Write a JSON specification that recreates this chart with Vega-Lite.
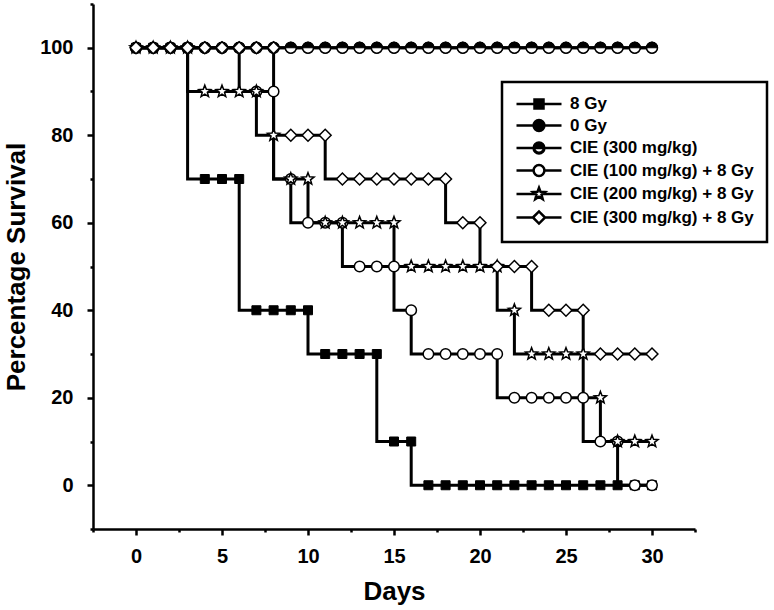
{
  "$schema": "https://vega.github.io/schema/vega-lite/v6.json",
  "width": 602,
  "height": 525,
  "autosize": {"type": "none"},
  "padding": {"left": 93, "top": 4, "right": 79, "bottom": 81},
  "background": "white",
  "config": {"view": {"stroke": null}, "font": "Liberation Sans", "legend": {"strokeWidth": 2.5}},
  "data": {"values": [
    {"group":"8 Gy","day":0,"pct":100},{"group":"8 Gy","day":1,"pct":100},{"group":"8 Gy","day":2,"pct":100},{"group":"8 Gy","day":3,"pct":100},{"group":"8 Gy","day":4,"pct":70},{"group":"8 Gy","day":5,"pct":70},{"group":"8 Gy","day":6,"pct":70},{"group":"8 Gy","day":7,"pct":40},{"group":"8 Gy","day":8,"pct":40},{"group":"8 Gy","day":9,"pct":40},{"group":"8 Gy","day":10,"pct":40},{"group":"8 Gy","day":11,"pct":30},{"group":"8 Gy","day":12,"pct":30},{"group":"8 Gy","day":13,"pct":30},{"group":"8 Gy","day":14,"pct":30},{"group":"8 Gy","day":15,"pct":10},{"group":"8 Gy","day":16,"pct":10},{"group":"8 Gy","day":17,"pct":0},{"group":"8 Gy","day":18,"pct":0},{"group":"8 Gy","day":19,"pct":0},{"group":"8 Gy","day":20,"pct":0},{"group":"8 Gy","day":21,"pct":0},{"group":"8 Gy","day":22,"pct":0},{"group":"8 Gy","day":23,"pct":0},{"group":"8 Gy","day":24,"pct":0},{"group":"8 Gy","day":25,"pct":0},{"group":"8 Gy","day":26,"pct":0},{"group":"8 Gy","day":27,"pct":0},{"group":"8 Gy","day":28,"pct":0},{"group":"8 Gy","day":29,"pct":0},{"group":"8 Gy","day":30,"pct":0},
    {"group":"0 Gy","day":0,"pct":100},{"group":"0 Gy","day":1,"pct":100},{"group":"0 Gy","day":2,"pct":100},{"group":"0 Gy","day":3,"pct":100},{"group":"0 Gy","day":4,"pct":100},{"group":"0 Gy","day":5,"pct":100},{"group":"0 Gy","day":6,"pct":100},{"group":"0 Gy","day":7,"pct":100},{"group":"0 Gy","day":8,"pct":100},{"group":"0 Gy","day":9,"pct":100},{"group":"0 Gy","day":10,"pct":100},{"group":"0 Gy","day":11,"pct":100},{"group":"0 Gy","day":12,"pct":100},{"group":"0 Gy","day":13,"pct":100},{"group":"0 Gy","day":14,"pct":100},{"group":"0 Gy","day":15,"pct":100},{"group":"0 Gy","day":16,"pct":100},{"group":"0 Gy","day":17,"pct":100},{"group":"0 Gy","day":18,"pct":100},{"group":"0 Gy","day":19,"pct":100},{"group":"0 Gy","day":20,"pct":100},{"group":"0 Gy","day":21,"pct":100},{"group":"0 Gy","day":22,"pct":100},{"group":"0 Gy","day":23,"pct":100},{"group":"0 Gy","day":24,"pct":100},{"group":"0 Gy","day":25,"pct":100},{"group":"0 Gy","day":26,"pct":100},{"group":"0 Gy","day":27,"pct":100},{"group":"0 Gy","day":28,"pct":100},{"group":"0 Gy","day":29,"pct":100},{"group":"0 Gy","day":30,"pct":100},
    {"group":"CIE (300 mg/kg)","day":0,"pct":100},{"group":"CIE (300 mg/kg)","day":1,"pct":100},{"group":"CIE (300 mg/kg)","day":2,"pct":100},{"group":"CIE (300 mg/kg)","day":3,"pct":100},{"group":"CIE (300 mg/kg)","day":4,"pct":100},{"group":"CIE (300 mg/kg)","day":5,"pct":100},{"group":"CIE (300 mg/kg)","day":6,"pct":100},{"group":"CIE (300 mg/kg)","day":7,"pct":100},{"group":"CIE (300 mg/kg)","day":8,"pct":100},{"group":"CIE (300 mg/kg)","day":9,"pct":100},{"group":"CIE (300 mg/kg)","day":10,"pct":100},{"group":"CIE (300 mg/kg)","day":11,"pct":100},{"group":"CIE (300 mg/kg)","day":12,"pct":100},{"group":"CIE (300 mg/kg)","day":13,"pct":100},{"group":"CIE (300 mg/kg)","day":14,"pct":100},{"group":"CIE (300 mg/kg)","day":15,"pct":100},{"group":"CIE (300 mg/kg)","day":16,"pct":100},{"group":"CIE (300 mg/kg)","day":17,"pct":100},{"group":"CIE (300 mg/kg)","day":18,"pct":100},{"group":"CIE (300 mg/kg)","day":19,"pct":100},{"group":"CIE (300 mg/kg)","day":20,"pct":100},{"group":"CIE (300 mg/kg)","day":21,"pct":100},{"group":"CIE (300 mg/kg)","day":22,"pct":100},{"group":"CIE (300 mg/kg)","day":23,"pct":100},{"group":"CIE (300 mg/kg)","day":24,"pct":100},{"group":"CIE (300 mg/kg)","day":25,"pct":100},{"group":"CIE (300 mg/kg)","day":26,"pct":100},{"group":"CIE (300 mg/kg)","day":27,"pct":100},{"group":"CIE (300 mg/kg)","day":28,"pct":100},{"group":"CIE (300 mg/kg)","day":29,"pct":100},{"group":"CIE (300 mg/kg)","day":30,"pct":100},
    {"group":"CIE (100 mg/kg) + 8 Gy","day":0,"pct":100},{"group":"CIE (100 mg/kg) + 8 Gy","day":1,"pct":100},{"group":"CIE (100 mg/kg) + 8 Gy","day":2,"pct":100},{"group":"CIE (100 mg/kg) + 8 Gy","day":3,"pct":100},{"group":"CIE (100 mg/kg) + 8 Gy","day":4,"pct":100},{"group":"CIE (100 mg/kg) + 8 Gy","day":5,"pct":100},{"group":"CIE (100 mg/kg) + 8 Gy","day":6,"pct":100},{"group":"CIE (100 mg/kg) + 8 Gy","day":7,"pct":90},{"group":"CIE (100 mg/kg) + 8 Gy","day":8,"pct":90},{"group":"CIE (100 mg/kg) + 8 Gy","day":9,"pct":70},{"group":"CIE (100 mg/kg) + 8 Gy","day":10,"pct":60},{"group":"CIE (100 mg/kg) + 8 Gy","day":11,"pct":60},{"group":"CIE (100 mg/kg) + 8 Gy","day":12,"pct":60},{"group":"CIE (100 mg/kg) + 8 Gy","day":13,"pct":50},{"group":"CIE (100 mg/kg) + 8 Gy","day":14,"pct":50},{"group":"CIE (100 mg/kg) + 8 Gy","day":15,"pct":50},{"group":"CIE (100 mg/kg) + 8 Gy","day":16,"pct":40},{"group":"CIE (100 mg/kg) + 8 Gy","day":17,"pct":30},{"group":"CIE (100 mg/kg) + 8 Gy","day":18,"pct":30},{"group":"CIE (100 mg/kg) + 8 Gy","day":19,"pct":30},{"group":"CIE (100 mg/kg) + 8 Gy","day":20,"pct":30},{"group":"CIE (100 mg/kg) + 8 Gy","day":21,"pct":30},{"group":"CIE (100 mg/kg) + 8 Gy","day":22,"pct":20},{"group":"CIE (100 mg/kg) + 8 Gy","day":23,"pct":20},{"group":"CIE (100 mg/kg) + 8 Gy","day":24,"pct":20},{"group":"CIE (100 mg/kg) + 8 Gy","day":25,"pct":20},{"group":"CIE (100 mg/kg) + 8 Gy","day":26,"pct":20},{"group":"CIE (100 mg/kg) + 8 Gy","day":27,"pct":10},{"group":"CIE (100 mg/kg) + 8 Gy","day":28,"pct":10},{"group":"CIE (100 mg/kg) + 8 Gy","day":29,"pct":0},{"group":"CIE (100 mg/kg) + 8 Gy","day":30,"pct":0},
    {"group":"CIE (200 mg/kg) + 8 Gy","day":0,"pct":100},{"group":"CIE (200 mg/kg) + 8 Gy","day":1,"pct":100},{"group":"CIE (200 mg/kg) + 8 Gy","day":2,"pct":100},{"group":"CIE (200 mg/kg) + 8 Gy","day":3,"pct":100},{"group":"CIE (200 mg/kg) + 8 Gy","day":4,"pct":90},{"group":"CIE (200 mg/kg) + 8 Gy","day":5,"pct":90},{"group":"CIE (200 mg/kg) + 8 Gy","day":6,"pct":90},{"group":"CIE (200 mg/kg) + 8 Gy","day":7,"pct":90},{"group":"CIE (200 mg/kg) + 8 Gy","day":8,"pct":80},{"group":"CIE (200 mg/kg) + 8 Gy","day":9,"pct":70},{"group":"CIE (200 mg/kg) + 8 Gy","day":10,"pct":70},{"group":"CIE (200 mg/kg) + 8 Gy","day":11,"pct":60},{"group":"CIE (200 mg/kg) + 8 Gy","day":12,"pct":60},{"group":"CIE (200 mg/kg) + 8 Gy","day":13,"pct":60},{"group":"CIE (200 mg/kg) + 8 Gy","day":14,"pct":60},{"group":"CIE (200 mg/kg) + 8 Gy","day":15,"pct":60},{"group":"CIE (200 mg/kg) + 8 Gy","day":16,"pct":50},{"group":"CIE (200 mg/kg) + 8 Gy","day":17,"pct":50},{"group":"CIE (200 mg/kg) + 8 Gy","day":18,"pct":50},{"group":"CIE (200 mg/kg) + 8 Gy","day":19,"pct":50},{"group":"CIE (200 mg/kg) + 8 Gy","day":20,"pct":50},{"group":"CIE (200 mg/kg) + 8 Gy","day":21,"pct":50},{"group":"CIE (200 mg/kg) + 8 Gy","day":22,"pct":40},{"group":"CIE (200 mg/kg) + 8 Gy","day":23,"pct":30},{"group":"CIE (200 mg/kg) + 8 Gy","day":24,"pct":30},{"group":"CIE (200 mg/kg) + 8 Gy","day":25,"pct":30},{"group":"CIE (200 mg/kg) + 8 Gy","day":26,"pct":30},{"group":"CIE (200 mg/kg) + 8 Gy","day":27,"pct":20},{"group":"CIE (200 mg/kg) + 8 Gy","day":28,"pct":10},{"group":"CIE (200 mg/kg) + 8 Gy","day":29,"pct":10},{"group":"CIE (200 mg/kg) + 8 Gy","day":30,"pct":10},
    {"group":"CIE (300 mg/kg) + 8 Gy","day":0,"pct":100},{"group":"CIE (300 mg/kg) + 8 Gy","day":1,"pct":100},{"group":"CIE (300 mg/kg) + 8 Gy","day":2,"pct":100},{"group":"CIE (300 mg/kg) + 8 Gy","day":3,"pct":100},{"group":"CIE (300 mg/kg) + 8 Gy","day":4,"pct":100},{"group":"CIE (300 mg/kg) + 8 Gy","day":5,"pct":100},{"group":"CIE (300 mg/kg) + 8 Gy","day":6,"pct":100},{"group":"CIE (300 mg/kg) + 8 Gy","day":7,"pct":100},{"group":"CIE (300 mg/kg) + 8 Gy","day":8,"pct":100},{"group":"CIE (300 mg/kg) + 8 Gy","day":9,"pct":80},{"group":"CIE (300 mg/kg) + 8 Gy","day":10,"pct":80},{"group":"CIE (300 mg/kg) + 8 Gy","day":11,"pct":80},{"group":"CIE (300 mg/kg) + 8 Gy","day":12,"pct":70},{"group":"CIE (300 mg/kg) + 8 Gy","day":13,"pct":70},{"group":"CIE (300 mg/kg) + 8 Gy","day":14,"pct":70},{"group":"CIE (300 mg/kg) + 8 Gy","day":15,"pct":70},{"group":"CIE (300 mg/kg) + 8 Gy","day":16,"pct":70},{"group":"CIE (300 mg/kg) + 8 Gy","day":17,"pct":70},{"group":"CIE (300 mg/kg) + 8 Gy","day":18,"pct":70},{"group":"CIE (300 mg/kg) + 8 Gy","day":19,"pct":60},{"group":"CIE (300 mg/kg) + 8 Gy","day":20,"pct":60},{"group":"CIE (300 mg/kg) + 8 Gy","day":21,"pct":50},{"group":"CIE (300 mg/kg) + 8 Gy","day":22,"pct":50},{"group":"CIE (300 mg/kg) + 8 Gy","day":23,"pct":50},{"group":"CIE (300 mg/kg) + 8 Gy","day":24,"pct":40},{"group":"CIE (300 mg/kg) + 8 Gy","day":25,"pct":40},{"group":"CIE (300 mg/kg) + 8 Gy","day":26,"pct":40},{"group":"CIE (300 mg/kg) + 8 Gy","day":27,"pct":30},{"group":"CIE (300 mg/kg) + 8 Gy","day":28,"pct":30},{"group":"CIE (300 mg/kg) + 8 Gy","day":29,"pct":30},{"group":"CIE (300 mg/kg) + 8 Gy","day":30,"pct":30}
  ]},
  "encoding": {
    "x": {"field": "day", "type": "quantitative",
      "scale": {"domain": [-2.5, 32.5], "nice": false, "zero": false},
      "axis": {"title": "Days", "grid": false,
        "values": [-2.5, 0, 2.5, 5, 7.5, 10, 12.5, 15, 17.5, 20, 22.5, 25, 27.5, 30, 32.5],
        "labelExpr": "(datum.value % 5 === 0 && datum.value >= 0 && datum.value <= 30) ? format(datum.value, 'd') : ''",
        "tickSize": {"condition": {"test": "datum.value % 5 !== 0", "value": 3}, "value": 6},
        "domainColor": "black", "domainWidth": 2.5, "tickColor": "black", "tickWidth": 2.5,
        "labelFont": "Liberation Sans", "labelFontSize": 20, "labelFontWeight": "bold", "labelColor": "black",
        "labelPadding": 11, "labelFlush": false, "labelOverlap": false,
        "titleFont": "Liberation Sans", "titleFontSize": 26, "titleFontWeight": "bold", "titleColor": "black", "titlePadding": 12}},
    "y": {"field": "pct", "type": "quantitative",
      "scale": {"domain": [-10, 110], "nice": false, "zero": false},
      "axis": {"title": "Percentage Survival", "grid": false,
        "values": [-10, 0, 10, 20, 30, 40, 50, 60, 70, 80, 90, 100, 110],
        "labelExpr": "(datum.value % 20 === 0 && datum.value >= 0 && datum.value <= 100) ? format(datum.value, 'd') : ''",
        "tickSize": {"condition": {"test": "datum.value % 20 !== 0 || datum.value < 0 || datum.value > 100", "value": 3}, "value": 6},
        "domainColor": "black", "domainWidth": 2.5, "tickColor": "black", "tickWidth": 2.5,
        "labelFont": "Liberation Sans", "labelFontSize": 20, "labelFontWeight": "bold", "labelColor": "black",
        "labelPadding": 14, "labelFlush": false, "labelOverlap": false,
        "titleFont": "Liberation Sans", "titleFontSize": 26, "titleFontWeight": "bold", "titleColor": "black", "titlePadding": 10}}
  },
  "layer": [
    {"mark": {"type": "line", "interpolate": "step-before", "color": "black", "strokeWidth": 3},
     "encoding": {"detail": {"field": "group", "type": "nominal"}}},
    {"transform": [{"filter": {"field": "group", "equal": "8 Gy"}}],
     "mark": {"type": "point", "shape": "square", "size": 81, "filled": true, "fill": "black", "stroke": "black", "strokeWidth": 1, "opacity": 1}},
    {"transform": [{"filter": {"field": "group", "equal": "0 Gy"}}],
     "mark": {"type": "point", "shape": "circle", "size": 121, "filled": true, "fill": "black", "stroke": "black", "strokeWidth": 1, "opacity": 1}},
    {"transform": [{"filter": {"field": "group", "equal": "CIE (300 mg/kg)"}}],
     "mark": {"type": "point", "shape": "circle", "size": 121, "filled": true, "fill": "white", "stroke": "black", "strokeWidth": 1.5, "opacity": 1}},
    {"transform": [{"filter": {"field": "group", "equal": "CIE (300 mg/kg)"}}],
     "mark": {"type": "point", "shape": "M-1,0A1,1 0 0 1 1,0Z", "size": 121, "filled": true, "fill": "black", "stroke": "black", "strokeWidth": 1, "opacity": 1}},
    {"transform": [{"filter": {"field": "group", "equal": "CIE (100 mg/kg) + 8 Gy"}}],
     "mark": {"type": "point", "shape": "circle", "size": 110, "filled": true, "fill": "white", "stroke": "black", "strokeWidth": 1.5, "opacity": 1}},
    {"transform": [{"filter": {"field": "group", "equal": "CIE (200 mg/kg) + 8 Gy"}}],
     "mark": {"type": "point", "shape": "M0,-1L0.247,-0.34L0.951,-0.309L0.399,0.13L0.588,0.809L0,0.42L-0.588,0.809L-0.399,0.13L-0.951,-0.309L-0.247,-0.34Z", "size": 160, "filled": true, "fill": "white", "stroke": "black", "strokeWidth": 1.5, "opacity": 1}},
    {"transform": [{"filter": {"field": "group", "equal": "CIE (300 mg/kg) + 8 Gy"}}],
     "mark": {"type": "point", "shape": "diamond", "size": 140, "filled": true, "fill": "white", "stroke": "black", "strokeWidth": 1.5, "opacity": 1}},
    {"transform": [{"filter": {"field": "day", "equal": 0}}],
     "mark": {"type": "point", "filled": true, "strokeWidth": 2, "size": 225, "opacity": 0},
     "encoding": {
       "shape": {"field": "group", "type": "nominal",
         "scale": {"domain": ["8 Gy", "0 Gy", "CIE (300 mg/kg)", "CIE (100 mg/kg) + 8 Gy", "CIE (200 mg/kg) + 8 Gy", "CIE (300 mg/kg) + 8 Gy"],
           "range": [
             "M-3,0H3M-0.6,-0.6H0.6V0.6H-0.6Z",
             "M-3,0H3M0.72,0A0.72,0.72 0 1 1 -0.72,0A0.72,0.72 0 1 1 0.72,0Z",
             "M-3,0H-0.72M0.72,0H3M-0.72,0A0.72,0.72 0 0 1 0.72,0ZM0.72,0A0.72,0.72 0 0 1 -0.72,0L-0.645,0A0.645,0.645 0 0 0 0.645,0Z",
             "M-3,0H-0.72M0.72,0H3M0.72,0A0.72,0.72 0 1 1 -0.72,0A0.72,0.72 0 1 1 0.72,0Z",
             "M-3,0H-0.48M0.48,0H3M0,-0.84L0.2073,-0.2853L0.798,-0.2595L0.3354,0.1089L0.4938,0.6795L0,0.3528L-0.4938,0.6795L-0.3354,0.1089L-0.798,-0.2595L-0.2073,-0.2853Z",
             "M-3,0H-0.81M0.81,0H3M-0.81,0L0,-0.81L0.81,0L0,0.81Z"
           ]},
         "legend": {"title": null, "orient": "none", "legendX": 409, "legendY": 78, "padding": 13,
           "strokeColor": "black", "fillColor": "white", "labelFont": "Liberation Sans", "labelFontSize": 17, "labelFontWeight": "bold",
           "labelColor": "black", "symbolOffset": 15, "labelOffset": 22, "labelLimit": 400, "symbolSize": 225, "symbolStrokeColor": "black",
           "symbolStrokeWidth": 2.5, "symbolOpacity": 1, "rowPadding": 0.5}},
       "fill": {"field": "group", "type": "nominal",
         "scale": {"domain": ["8 Gy", "0 Gy", "CIE (300 mg/kg)", "CIE (100 mg/kg) + 8 Gy", "CIE (200 mg/kg) + 8 Gy", "CIE (300 mg/kg) + 8 Gy"],
           "range": ["black", "black", "black", "white", "white", "white"]},
         "legend": {"title": null, "orient": "none", "legendX": 409, "legendY": 78, "padding": 13,
           "strokeColor": "black", "fillColor": "white", "labelFont": "Liberation Sans", "labelFontSize": 17, "labelFontWeight": "bold",
           "labelColor": "black", "symbolOffset": 15, "labelOffset": 22, "labelLimit": 400, "symbolSize": 225, "symbolStrokeColor": "black",
           "symbolStrokeWidth": 2.5, "symbolOpacity": 1, "rowPadding": 0.5}},
       "stroke": {"field": "group", "type": "nominal",
         "scale": {"domain": ["8 Gy", "0 Gy", "CIE (300 mg/kg)", "CIE (100 mg/kg) + 8 Gy", "CIE (200 mg/kg) + 8 Gy", "CIE (300 mg/kg) + 8 Gy"],
           "range": ["black", "black", "black", "black", "black", "black"]},
         "legend": {"title": null, "orient": "none", "legendX": 409, "legendY": 78, "padding": 13,
           "strokeColor": "black", "fillColor": "white", "labelFont": "Liberation Sans", "labelFontSize": 17, "labelFontWeight": "bold",
           "labelColor": "black", "symbolOffset": 15, "labelOffset": 22, "labelLimit": 400, "symbolSize": 225, "symbolStrokeColor": "black",
           "symbolStrokeWidth": 2.5, "symbolOpacity": 1, "rowPadding": 0.5}}
     }}
  ]
}
